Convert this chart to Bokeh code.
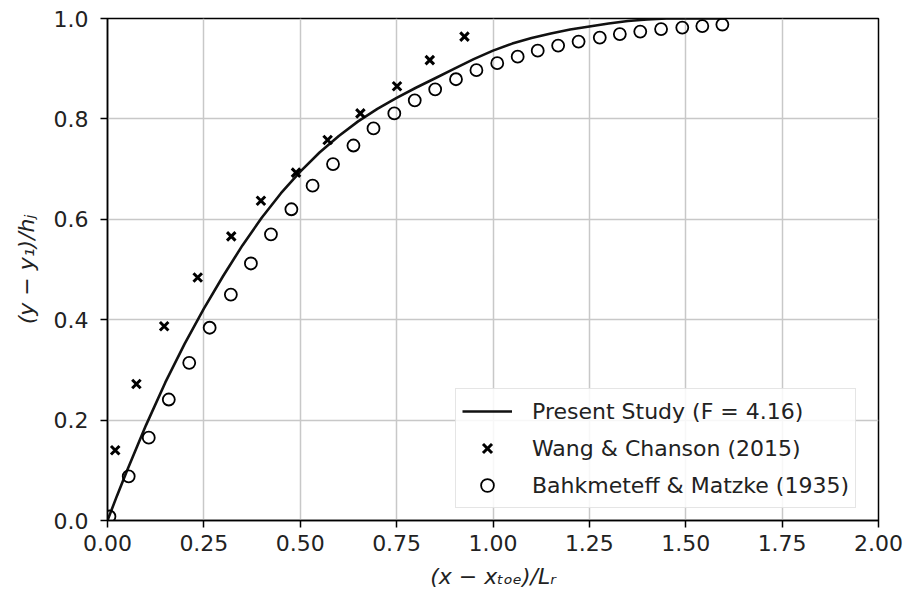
from bokeh.plotting import figure
from bokeh.models import Legend, LegendItem, FixedTicker, Range1d, CustomJSTickFormatter
from bokeh.embed import file_html
from bokeh.resources import INLINE

# Present study curve
curve_x = [0.0, 0.025, 0.05, 0.1, 0.15, 0.2, 0.25, 0.3, 0.35, 0.4, 0.45, 0.5, 0.55,
           0.6, 0.65, 0.7, 0.75, 0.8, 0.85, 0.9, 0.95, 1.0, 1.05, 1.1, 1.15, 1.2,
           1.25, 1.3, 1.35, 1.4, 1.45, 1.6]
curve_y = [0.0, 0.05, 0.098, 0.19, 0.275, 0.352, 0.422, 0.487, 0.548, 0.603, 0.652,
           0.695, 0.733, 0.766, 0.795, 0.820, 0.842, 0.862, 0.881, 0.900, 0.919, 0.936,
           0.950, 0.961, 0.970, 0.978, 0.984, 0.990, 0.995, 0.998, 1.0, 1.0]

# Wang & Chanson (2015)
wang_x = [0.020, 0.075, 0.147, 0.234, 0.321, 0.398, 0.489, 0.571, 0.656, 0.751, 0.836, 0.926]
wang_y = [0.140, 0.272, 0.387, 0.484, 0.566, 0.637, 0.693, 0.758, 0.811, 0.865, 0.917, 0.964]

# Bahkmeteff & Matzke (1935)
bahk_x = [0.005, 0.055, 0.107, 0.159, 0.212, 0.265, 0.320, 0.372, 0.424, 0.477, 0.532,
          0.585, 0.638, 0.690, 0.744, 0.797, 0.850, 0.904, 0.957, 1.011, 1.064, 1.116,
          1.169, 1.222, 1.277, 1.329, 1.382, 1.436, 1.491, 1.543, 1.595]
bahk_y = [0.008, 0.088, 0.165, 0.241, 0.314, 0.384, 0.450, 0.512, 0.570, 0.620, 0.667,
          0.710, 0.747, 0.781, 0.811, 0.837, 0.859, 0.879, 0.897, 0.911, 0.924, 0.936,
          0.946, 0.954, 0.962, 0.969, 0.974, 0.979, 0.982, 0.985, 0.988]

x_ticks = [0.0, 0.25, 0.5, 0.75, 1.0, 1.25, 1.5, 1.75, 2.0]
y_ticks = [0.0, 0.2, 0.4, 0.6, 0.8, 1.0]

FONT = "DejaVu Sans"
FS = "22px"
TXT = "#222222"

p = figure(width=906, height=598, output_backend="svg", toolbar_location=None,
           x_range=Range1d(0, 2), y_range=Range1d(0, 1),
           min_border_left=107, min_border_right=28, min_border_top=18, min_border_bottom=78)

p.background_fill_color = "white"
p.border_fill_color = "white"
p.outline_line_color = "black"
p.outline_line_width = 1.5

for ax in (p.xaxis[0], p.yaxis[0]):
    ax.axis_line_color = "black"
    ax.axis_line_width = 1.5
    ax.major_tick_line_color = "black"
    ax.major_tick_line_width = 1.5
    ax.major_tick_out = 7
    ax.major_tick_in = 0
    ax.minor_tick_line_color = None
    ax.major_label_text_font = FONT
    ax.major_label_text_font_size = FS
    ax.major_label_text_color = TXT
    ax.axis_label_text_font = FONT
    ax.axis_label_text_font_size = FS
    ax.axis_label_text_font_style = "italic"
    ax.axis_label_text_color = TXT

p.xaxis.major_label_standoff = 7
p.yaxis.major_label_standoff = 12
p.xaxis.ticker = FixedTicker(ticks=x_ticks)
p.yaxis.ticker = FixedTicker(ticks=y_ticks)
p.xaxis.formatter = CustomJSTickFormatter(code="return tick.toFixed(2);")
p.yaxis.formatter = CustomJSTickFormatter(code="return tick.toFixed(1);")
p.xaxis.axis_label = "(x \u2212 x\u209c\u2092\u2091)/L\u1d63"
p.yaxis.axis_label = "(y \u2212 y\u2081)/h\u2c7c"
p.xaxis.axis_label_standoff = 10
p.yaxis.axis_label_standoff = 12

p.xgrid.ticker = FixedTicker(ticks=x_ticks)
p.ygrid.ticker = FixedTicker(ticks=y_ticks)
p.grid.grid_line_color = "#c8c8c8"
p.grid.grid_line_width = 1.5

r_line = p.line(curve_x, curve_y, line_color="#111111", line_width=2.6)
r_wang = p.scatter(wang_x, wang_y, marker="x", size=12, line_color="black", line_width=3)
r_bahk = p.scatter(bahk_x, bahk_y, marker="circle", size=12, fill_color=None,
                   line_color="black", line_width=1.8)

legend = Legend(items=[
    LegendItem(label="Present Study (F = 4.16)", renderers=[r_line]),
    LegendItem(label="Wang & Chanson (2015)", renderers=[r_wang]),
    LegendItem(label="Bahkmeteff & Matzke (1935)", renderers=[r_bahk]),
], location=(348, 12))
legend.label_text_font = FONT
legend.label_text_font_size = FS
legend.label_text_color = TXT
legend.glyph_width = 50
legend.glyph_height = 32
legend.label_height = 32
legend.spacing = 5
legend.padding = 6
legend.margin = 0
legend.label_standoff = 20
legend.border_line_color = "#cccccc"
legend.border_line_width = 1.5
legend.background_fill_color = "white"
legend.background_fill_alpha = 0.85
p.add_layout(legend)

open("out.html", "w").write(file_html(p, INLINE))
